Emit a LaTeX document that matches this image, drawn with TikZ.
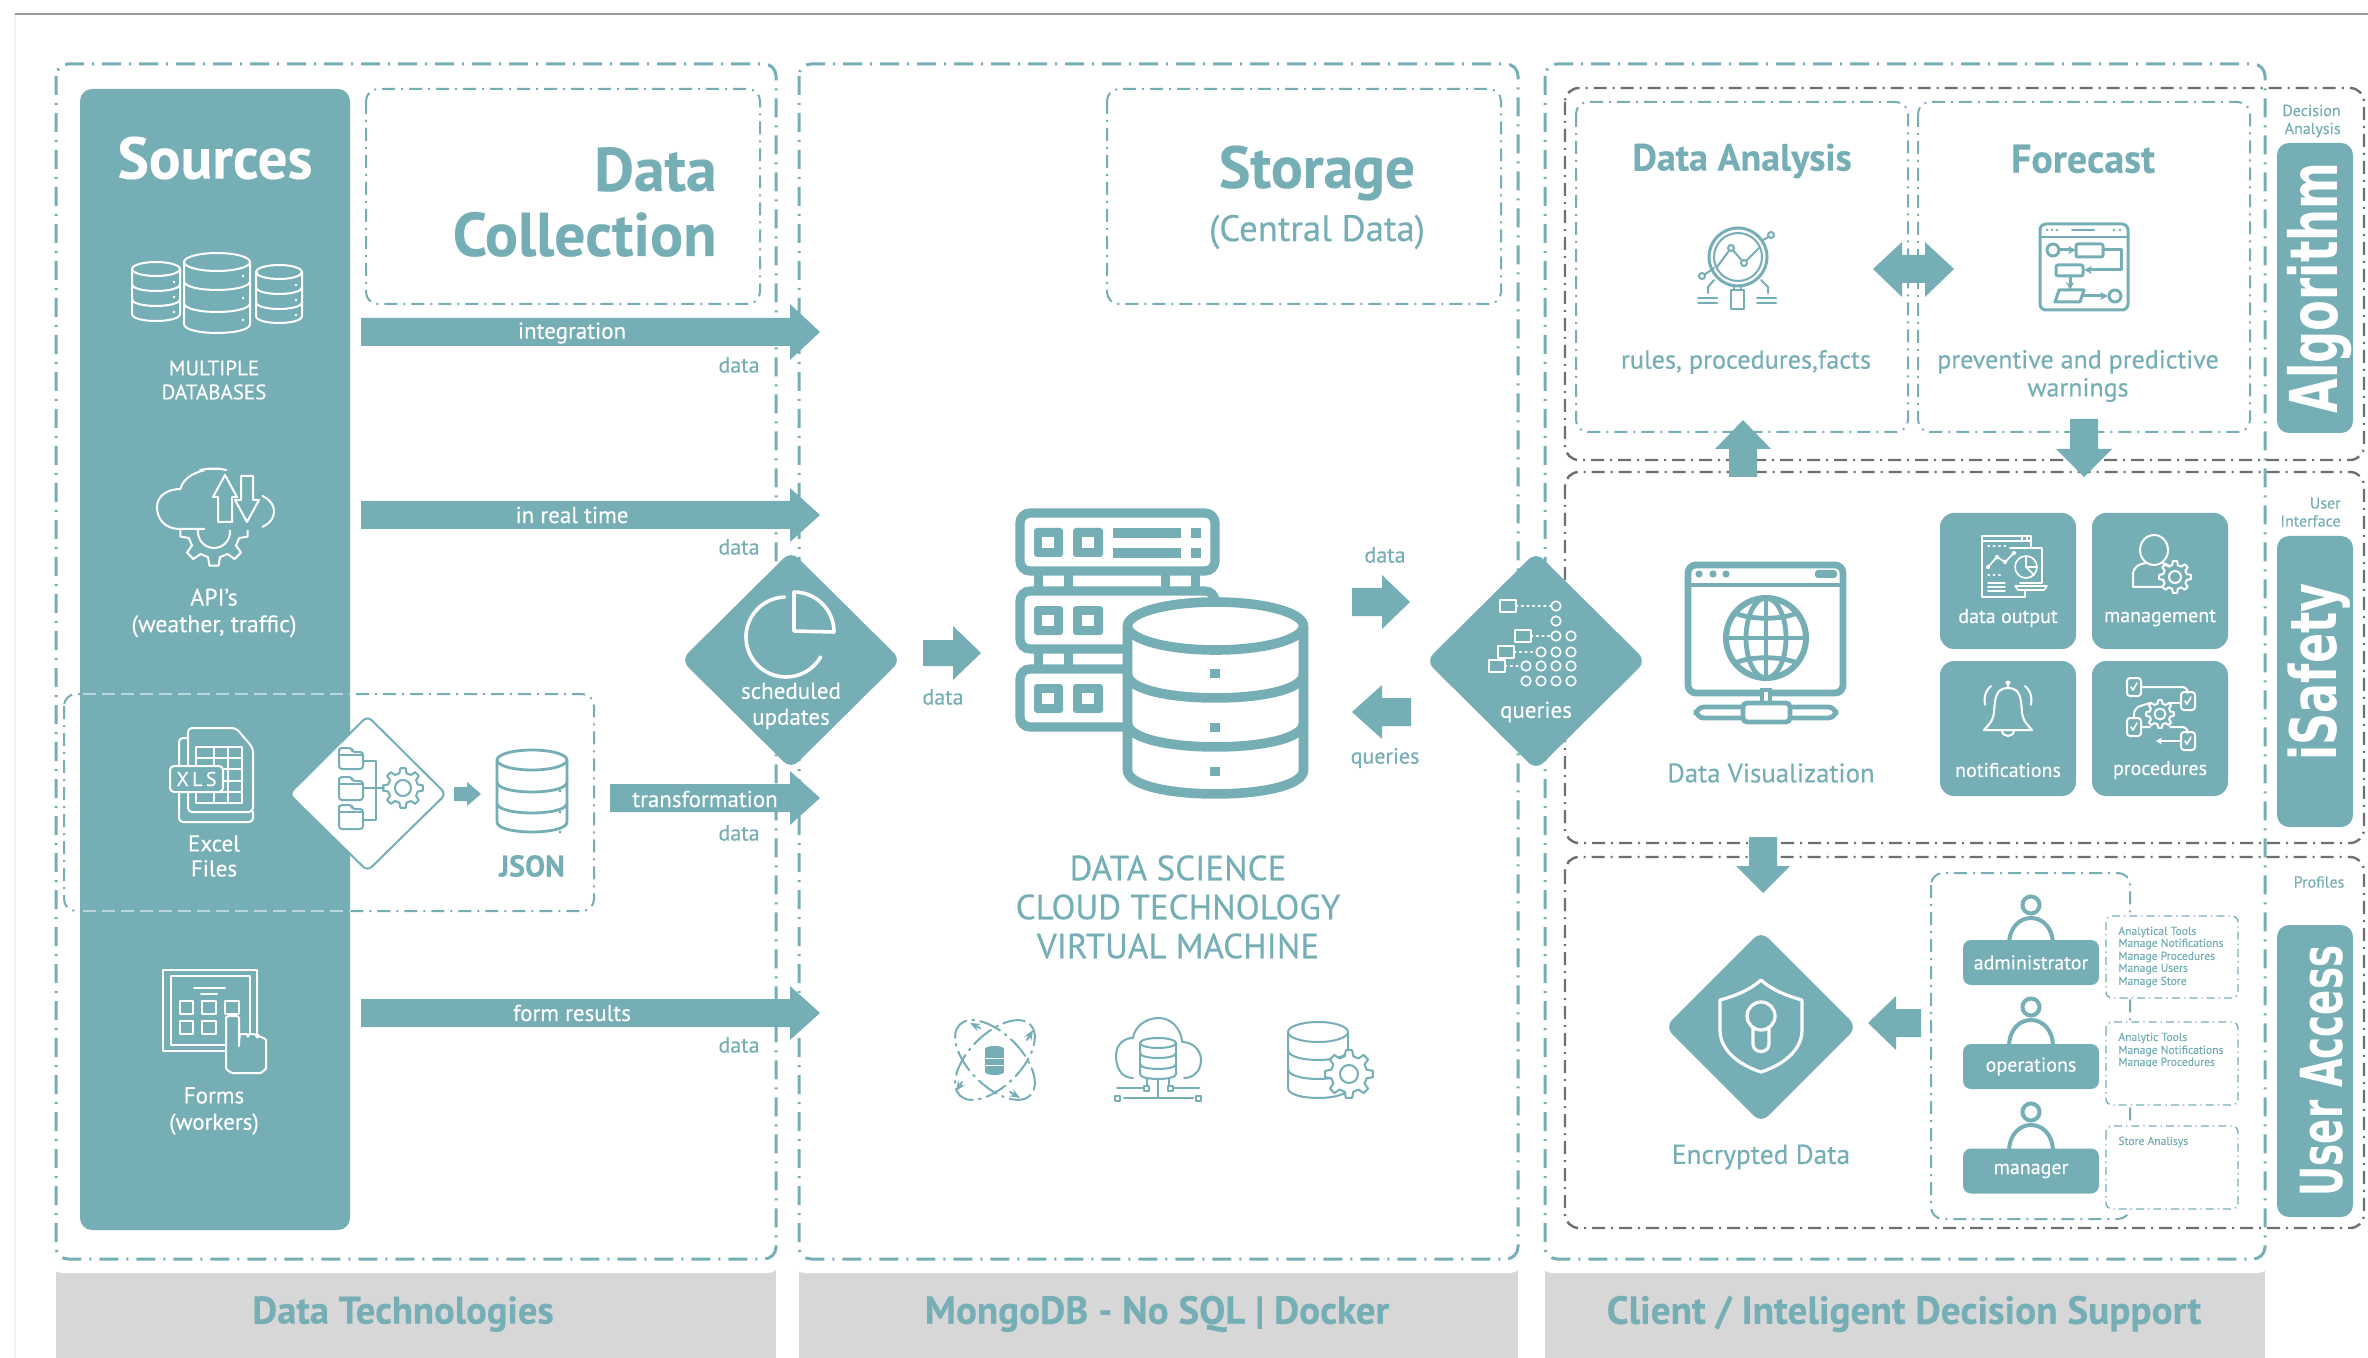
\documentclass[tikz,border=0pt]{standalone}
\usepackage{fontspec}
\usepackage{graphicx}
\usetikzlibrary{arrows.meta}
\setmainfont{PT Sans}[FakeBold=0.25]
\newfontfamily\widef{DejaVu Sans}
\definecolor{tealc}{HTML}{76AEB6}
\definecolor{paleline}{HTML}{BBD6DA}
\definecolor{bandc}{HTML}{D7D7D7}
\definecolor{grayd}{HTML}{6F6F6F}
\newcommand{\fz}[2]{\fontsize{#1}{#2}\selectfont}
\newcommand{\harrow}[6]{\fill[tealc] (#1,{#4-#5}) -- (#2,{#4-#5}) -- (#2,{#4-#6}) -- (#3,#4) -- (#2,{#4+#6}) -- (#2,{#4+#5}) -- (#1,{#4+#5}) -- cycle;}
\newcommand{\varrow}[6]{\fill[tealc] ({#4-#5},#1) -- ({#4-#5},#2) -- ({#4-#6},#2) -- (#4,#3) -- ({#4+#6},#2) -- ({#4+#5},#2) -- ({#4+#5},#1) -- cycle;}
\newcommand{\dmd}[5]{\fill[tealc,rounded corners=5pt] (#1,{#2-#4}) -- ({#1+#3},#2) -- (#1,{#2+#4}) -- ({#1-#3},#2) -- cycle;}
\newcommand{\cyl}[8]{%
 \path[fill=#2] ({#3-#6},#4) -- ({#3-#6},#5) .. controls ({#3-#6},{#5+1.33*#7}) and ({#3+#6},{#5+1.33*#7}) .. ({#3+#6},#5) -- ({#3+#6},#4) .. controls ({#3+#6},{#4-1.33*#7}) and ({#3-#6},{#4-1.33*#7}) .. ({#3-#6},#4) -- cycle;
 \draw[#1] ({#3-#6},#4) -- ({#3-#6},#5) .. controls ({#3-#6},{#5+1.33*#7}) and ({#3+#6},{#5+1.33*#7}) .. ({#3+#6},#5) -- ({#3+#6},#4);
 \draw[#1] (#3,#4) ellipse [x radius=#6,y radius=#7];
 \foreach \yy in {#8} {\draw[#1] ({#3-#6},\yy) .. controls ({#3-#6},{\yy+1.33*#7}) and ({#3+#6},{\yy+1.33*#7}) .. ({#3+#6},\yy);}
}
\newcommand{\gearic}[6][]{%
 \draw[#1,shift={(#2,#3)},line join=round] ({-0.3*360/#6}:{#4*.76})
   \foreach \k in {1,...,#6} { -- ({(\k-1-.3)*360/#6}:{#4*.76}) -- ({(\k-1-.17)*360/#6}:{#4}) -- ({(\k-1+.17)*360/#6}:{#4}) -- ({(\k-1+.3)*360/#6}:{#4*.76}) } -- cycle;
 \draw[#1,shift={(#2,#3)}] (0,0) circle [radius=#5];
}
\newcommand{\rackbox}[1]{%
 \draw[teal9,fill=white,rounded corners=5pt] (1020,#1) rectangle (1215,{#1+58});
 \fill[tealc,rounded corners=1.5pt] (1034,{#1+15}) rectangle (1063,{#1+44});
 \fill[tealc,rounded corners=1.5pt] (1073,{#1+15}) rectangle (1103,{#1+44});
 \fill[white] (1042,{#1+24}) rectangle (1054,{#1+35});
 \fill[white] (1082,{#1+24}) rectangle (1094,{#1+35});
}
\tikzset{
 x=0.5pt,y=-0.5pt,
 dbox/.style={draw=tealc,line width=1.5pt,rounded corners=6pt,dash pattern=on 9.5pt off 4pt on 1pt off 4pt},
 tbox/.style={draw=tealc,line width=1pt,rounded corners=6pt,dash pattern=on 6.5pt off 3pt on 1pt off 3pt},
 fbox/.style={draw=tealc,line width=.7pt,rounded corners=3pt,fill=white,dash pattern=on 4pt off 2pt on .7pt off 2pt},
 gbox/.style={draw=grayd,line width=1.2pt,rounded corners=7pt,dash pattern=on 6.5pt off 3pt on 1pt off 3pt},
 txt/.style={inner sep=0pt,align=center,text=tealc},
 wtxt/.style={inner sep=0pt,align=center,text=white},
 pill/.style={fill=tealc,rounded corners=6pt},
 teal9/.style={draw=tealc,line width=4.6pt},
 wi/.style={draw=white,line width=1pt,line join=round,line cap=round},
 wth/.style={draw=white,line width=1.6pt,line join=round,line cap=round},
 ti/.style={draw=tealc,line width=1pt,line join=round,line cap=round},
 tm/.style={draw=tealc,line width=1.5pt,line join=round,line cap=round},
 tileb/.style={fill=tealc,rounded corners=7pt},
 utile/.style={fill=tealc,rounded corners=4pt,minimum width=68pt,minimum height=22.5pt,inner sep=0pt,text=white,font=\fz{10}{12}},
}
\begin{document}
\begin{tikzpicture}
\useasboundingbox (0,0) rectangle (2368,1358);
\fill[white] (0,0) rectangle (2368,1358);
\draw[draw=black!5,line width=.7pt] (15,14) -- (15,1358);
\draw[draw=black!40,line width=1.2pt] (15,14) -- (2368,14);
% gray bands
\fill[bandc] (56,1260) rectangle (776,1358);
\fill[bandc] (799,1260) rectangle (1518,1358);
\fill[bandc] (1545,1260) rectangle (2265,1358);
\fill[white,rounded corners=6pt] (50,1200) rectangle (780,1273);
\fill[white,rounded corners=6pt] (793,1200) rectangle (1522,1273);
\fill[white,rounded corners=6pt] (1540,1200) rectangle (2270,1273);
\node[txt,font=\bfseries\fz{19.3}{24}] (bt1) at (403,1314) {Data Technologies};
\node[txt,font=\bfseries\fz{19.5}{24}] (bt2) at (1157,1314) {MongoDB - No SQL | Docker};
\node[txt,font=\bfseries\fz{19.6}{24}] (bt3) at (1904,1314) {Client / Inteligent Decision Support};
% columns
\draw[dbox] (56,64) rectangle (776,1259);
\draw[dbox] (799,64) rectangle (1518,1259);
\draw[dbox] (1545,64) rectangle (2265,1259);
% sources panel
\fill[pill] (80,89) rectangle (350,1230);
\node[wtxt,font=\bfseries\fz{29.5}{30}] (src) at (215,158) {Sources};
% databases icon
\cyl{wi}{none}{217}{262}{324}{33}{9}{281,303}
\cyl{wi}{none}{156}{269}{314}{24}{7}{284,299}
\cyl{wi}{none}{279}{272}{316}{23}{7}{287,302}
\foreach \dx/\dy in {243/276,243/298,243/320,174/282,174/297,174/312,296/285,296/300,296/315}{\fill[white] (\dx,\dy) circle [radius=1.3];}
\node[wtxt,font=\fz{10.5}{12}] (mdb) at (214,380) {MULTIPLE\\DATABASES};
% API icon
\begin{scope}[shift={(157,469)},x=0.585pt,y=-0.5pt]
 \draw[wi] (20,60) .. controls (5,60) and (0,48) .. (0,38) .. controls (0,26) and (10,20) .. (20,20) .. controls (22,8) and (36,0) .. (50,0) .. controls (65,0) and (76,10) .. (78,24) .. controls (90,24) and (100,32) .. (100,42) .. controls (100,54) and (90,60) .. (80,60) -- cycle;
\end{scope}
\fill[tealc] (205,470) rectangle (262,530);
\draw[wi] (200,470) .. controls (210,468) and (218,468) .. (226,470);
\draw[wi] (218,522) -- (218,497) -- (213,497) -- (225,475) -- (237,497) -- (232,497) -- (232,522) -- cycle;
\draw[wi] (241,476) -- (253,476) -- (253,500) -- (259,500) -- (247,522) -- (235,500) -- (241,500) -- cycle;
\begin{scope}
 \clip (170,531) rectangle (260,575);
 \gearic[wi]{214}{532}{34}{16}{8}
\end{scope}
\node[wtxt,font=\fz{11.9}{13.3}] (api) at (214,613) {API’s\\(weather, traffic)};
% dashed excel box
\draw[tbox] (64,694) rectangle (594,911);
\begin{scope}
 \clip (80,680) rectangle (350,920);
 \draw[draw=paleline,fill=none,line width=1pt,dash pattern=on 6.5pt off 3pt] (64,694) -- (350,694) (64,911) -- (350,911);
\end{scope}
% excel icon
\draw[wi,rounded corners=2pt] (188,812) -- (188,728) -- (236,728) -- (253,748) -- (253,812) -- cycle;
\draw[wi,rounded corners=2pt] (188,738) -- (179,738) -- (179,822) -- (253,822) -- (253,812);
\foreach \gy in {747,758,769,781,792,803}{\draw[wi,line width=.7pt] (196,\gy) -- (242,\gy);}
\foreach \gx in {196,214,228,242}{\draw[wi,line width=.7pt] (\gx,747) -- (\gx,803);}
\draw[wi,fill=tealc,rounded corners=2pt] (170,766) rectangle (223,792);
\node[wtxt,font=\fz{10}{12}] (xls) at (196.5,779) {X\,L\,S};
\node[wtxt,font=\fz{11.5}{12.5}] (xlst) at (214,856) {Excel\\Files};
% forms icon
\draw[wi] (163,970) rectangle (257,1051);
\draw[wi] (171,976) rectangle (250,1045);
\draw[wi] (194,988) -- (225,988) (201,994) -- (217,994);
\foreach \sx/\sy/\sw in {180/1001/13,202/1001/14,225/1001/14,180/1021/13,202/1021/14}{\draw[wi] (\sx,\sy) rectangle ({\sx+\sw},{\sy+13});}
\draw[wi,fill=tealc,rounded corners=3pt] (226,1062) -- (226,1024) .. controls (226,1015) and (239,1015) .. (239,1024) -- (239,1044) -- (239,1040) .. controls (240,1034) and (247,1034) .. (248,1040) .. controls (249,1034) and (256,1034) .. (257,1041) .. controls (258,1037) and (266,1038) .. (266,1046) -- (266,1062) .. controls (266,1070) and (260,1073) .. (255,1073) -- (238,1073) .. controls (232,1073) and (226,1070) .. (226,1062) -- cycle;
\node[wtxt,font=\fz{11.5}{13.2}] (frm) at (214,1111) {Forms\\(workers)};
% white diamond
\draw[tealc,fill=white,line width=1pt,rounded corners=3pt] (367.5,716) -- (446,794) -- (367.5,871) -- (289,794) -- cycle;
\foreach \fy/\fh in {748/21,777/23,805/24}{\draw[ti,rounded corners=1.5pt] (339,{\fy+4}) -- (339,\fy) -- (352,\fy) -- (352,{\fy+4}) -- (363,{\fy+4}) -- (363,{\fy+\fh}) -- (339,{\fy+\fh}) -- cycle;
 \draw[ti] (339,{\fy+7}) -- (363,{\fy+7});}
\draw[ti] (363,761) -- (376,761) -- (376,820) -- (363,820) (363,788) -- (384,788);
\gearic[ti]{403}{788}{20}{8}{8}
\harrow{454}{467}{481}{794}{7}{12}
% json
\cyl{line width=1.4pt,draw=tealc,line join=round}{white}{532}{760}{822}{35}{10}{782,803}
\foreach \dy in {791,812,832}{\fill[tealc] (560,\dy) circle [radius=1.6];}
\node[txt,font=\bfseries\fz{15}{15}] (js) at (532,866) {JSON};
% data collection
\draw[tbox] (366,89) rectangle (760,304);
\node[txt,align=right,anchor=east,font=\bfseries\fz{30.8}{32.5}] (dc) at (717,202) {Data\\Collection};
% four arrows
\harrow{361}{790}{820}{332}{14}{28}
\node[wtxt,font=\fz{11.5}{13}] (a1) at (572,333) {integration};
\node[txt,anchor=east,font=\fz{11}{13}] (d1) at (760,365) {data};
\harrow{361}{790}{820}{515}{14}{27}
\node[wtxt,font=\fz{11.5}{13}] (a2) at (572,515) {in real time};
\node[txt,anchor=east,font=\fz{11}{13}] (d2) at (760,547) {data};
\harrow{610}{790}{820}{798}{14}{27}
\node[wtxt,font=\fz{11.5}{13}] (a3) at (705,799) {transformation};
\node[txt,anchor=east,font=\fz{11}{13}] (d3) at (760,833) {data};
\harrow{361}{790}{820}{1013}{14}{27}
\node[wtxt,font=\fz{11.5}{13}] (a4) at (572,1013) {form results};
\node[txt,anchor=east,font=\fz{11}{13}] (d4) at (760,1045) {data};
% scheduled diamond
\dmd{791}{660}{110}{109}{}
\draw[wth,line width=1.8pt] (794,631) -- (794,592) arc [start angle=-90,end angle=0,radius=40] -- cycle;
\draw[wth,line width=1.8pt] ({786+40*cos(30)},{637+20}) arc [start angle=30,end angle=268,radius=40];
\node[wtxt,font=\fz{11.5}{13}] (sch) at (791,706) {scheduled\\updates};
\harrow{923}{953}{981}{653}{13}{27}
\node[txt,font=\fz{11}{13}] (d5) at (943,697) {data};
% storage
\draw[tbox] (1107,89) rectangle (1501,304);
\node[txt,font=\bfseries\fz{29.7}{30}] (st) at (1317,173) {Storage};
\node[txt,font=\fz{18.4}{20}] (st2) at (1317,232) {(Central Data)};
% server racks
\foreach \lx in {1034,1064,1161,1191}{\fill[tealc] (\lx,570) rectangle ({\lx+9},672);}
\rackbox{513}
\rackbox{591}
\rackbox{669}
\foreach \ry in {528,548}{\fill[tealc] (1113,\ry) rectangle (1181,{\ry+10}); \fill[tealc] (1191,\ry) rectangle (1201,{\ry+10});}
\cyl{line width=4.8pt,draw=tealc,line join=round}{white}{1215.5}{626}{770}{88}{24}{674,723}
\foreach \dy in {669,723,767}{\fill[tealc] (1210,\dy) rectangle (1220,{\dy+9});}
\node[txt,font=\fz{17.5}{19.5}] (sci) at (1178,907) {DATA SCIENCE\\CLOUD TECHNOLOGY\\VIRTUAL MACHINE};
% storage arrows
\node[txt,font=\fz{11}{13}] (d6) at (1385,555) {data};
\harrow{1352}{1382}{1410}{602}{14}{27}
\harrow{1411}{1382}{1352}{712}{14}{27}
\node[txt,font=\fz{11}{13}] (q1) at (1385,758) {queries};
% atom icon
\begin{scope}
 \draw[ti,dash pattern=on 11pt off 3pt on 1pt off 3pt,rotate around={45:(995,1060)}] (995,1060) ellipse [x radius=50,y radius=26];
 \draw[ti,dash pattern=on 11pt off 3pt on 1pt off 3pt,rotate around={-45:(995,1060)}] (995,1060) ellipse [x radius=50,y radius=26];
 \draw[ti,-{Stealth[length=5pt,width=4pt]}] (980,1028) -- (970,1023);
 \draw[ti,-{Stealth[length=5pt,width=4pt]}] (1027,1040) -- (1033,1030);
 \draw[ti,-{Stealth[length=5pt,width=4pt]}] (962,1082) -- (956,1091);
 \draw[ti,-{Stealth[length=5pt,width=4pt]}] (1010,1092) -- (1020,1098);
 \fill[tealc] (985,1049) rectangle (1004,1072);
 \fill[tealc] (994.5,1049) ellipse [x radius=9.5,y radius=3];
 \fill[tealc] (994.5,1072) ellipse [x radius=9.5,y radius=3];
 \draw[draw=white,line width=.5pt] (985,1058) -- (1004,1058) (985,1065) -- (1004,1065);
\end{scope}
% cloud icon
\begin{scope}[shift={(1116,1018)},x=0.425pt,y=-0.5pt]
 \draw[ti] (20,60) .. controls (5,60) and (0,48) .. (0,38) .. controls (0,26) and (10,20) .. (20,20) .. controls (22,8) and (36,0) .. (50,0) .. controls (65,0) and (76,10) .. (78,24) .. controls (90,24) and (100,32) .. (100,42) .. controls (100,54) and (90,60) .. (80,60);
\end{scope}
\cyl{ti}{white}{1158}{1043}{1074}{18}{5}{1053,1064}
\draw[ti] (1147,1079) -- (1147,1088) -- (1117,1088) (1169,1079) -- (1169,1088) -- (1199,1088);
\draw[ti] (1158,1079) -- (1158,1098) -- (1124,1098) (1158,1098) -- (1193,1098);
\foreach \bx/\by in {1117/1098,1198/1098,1146/1088,1170/1088}{\draw[ti,fill=white] ({\bx-2.5},{\by-2.5}) rectangle ({\bx+2.5},{\by+2.5});}
% db gear icon
\cyl{ti}{white}{1318}{1032}{1088}{30}{10}{1050,1069}
\gearic[ti,fill=white]{1349}{1074}{24}{9}{8}
% right column boxes
\draw[gbox] (1565,88) rectangle (2364,460);
\draw[gbox] (1565,472) rectangle (2364,843);
\draw[gbox] (1565,857) rectangle (2364,1228);
\draw[tbox] (1576,102) rectangle (1908,432);
\draw[tbox] (1918,102) rectangle (2250,432);
% queries diamond
\dmd{1536}{661}{110}{109}{}
\foreach \qx/\qy in {1556/606,1556/621,1556/636,1571/636,1541/652,1556/652,1571/652,1526/666,1541/666,1556/666,1571/666,1526/681,1541/681,1556/681,1571/681}{\draw[wi,line width=.8pt] (\qx,\qy) circle [radius=4.8];}
\foreach \qx/\qy/\qe in {1500/606/1551,1515/636/1551,1498/652/1535,1489/666/1521}{\draw[wi,line width=.8pt,fill=tealc] (\qx,{\qy-6}) rectangle ({\qx+16},{\qy+6}); \draw[wi,line width=.8pt,dotted] ({\qx+16},\qy) -- (\qe,\qy);}
\node[wtxt,font=\fz{11.5}{13}] (qu) at (1536,712) {queries};
% double arrow
\fill[tealc] (1873,269) -- (1902,242) -- (1902,255) -- (1925,255) -- (1925,242) -- (1954,269) -- (1925,297) -- (1925,283) -- (1902,283) -- (1902,297) -- cycle;
\node[txt,font=\bfseries\fz{19}{20}] (da) at (1742,161) {Data Analysis};
\node[txt,font=\bfseries\fz{20}{20}] (fc) at (2083,159) {Forecast};
\node[txt,font=\fz{13.1}{14}] (ru) at (1746,362) {rules, procedures,facts};
\node[txt,font=\fz{13}{14}] (pr) at (2078,376) {preventive and predictive\\warnings};
% analysis icon
\draw[tm] (1738,257) circle [radius=29];
\draw[ti] (1738,257) circle [radius=24];
\draw[ti] (1717,267) -- (1731,248) -- (1744,263) -- (1759,248);
\draw[ti,fill=white] (1731,248) circle [radius=3];
\draw[ti,fill=white] (1744,263) circle [radius=3];
\draw[tm,line width=1.2pt] (1731,290) rectangle (1744,309);
\draw[ti] (1734,285) -- (1734,290) (1741,285) -- (1741,290);
\draw[ti] (1763,240) -- (1770,236) (1714,268) -- (1704,275);
\draw[ti,fill=white] (1771,235) circle [radius=3];
\draw[ti,fill=white] (1702,276) circle [radius=3];
\draw[ti] (1708,293) -- (1708,287) -- (1714,280) (1768,293) -- (1768,287) -- (1761,280);
\draw[ti] (1698,298) -- (1717,298) (1698,303) -- (1717,303) (1757,298) -- (1776,298) (1757,303) -- (1776,303);
% forecast icon
\draw[tm,rounded corners=3pt] (2040,224) rectangle (2128,310);
\draw[ti] (2040,237) -- (2128,237) (2072,230) -- (2094,230);
\foreach \ddx in {2047,2052,2057,2114,2120}{\fill[tealc] (\ddx,230) circle [radius=1.3];}
\draw[tm] (2053,250) circle [radius=6];
\draw[tm,-{Stealth[length=4pt,width=4pt]}] (2059,250) -- (2076,250);
\draw[tm,rounded corners=1pt] (2076,244) rectangle (2103,257);
\draw[tm,-{Stealth[length=4pt,width=4pt]}] (2103,250) -- (2121,250) -- (2121,270) -- (2084,270);
\draw[tm,rounded corners=1pt] (2056,265) rectangle (2083,276);
\draw[tm,-{Stealth[length=4pt,width=4pt]}] (2070,276) -- (2070,290);
\draw[tm] (2059,290) -- (2084,290) -- (2080,302) -- (2055,302) -- cycle;
\draw[tm,-{Stealth[length=4pt,width=4pt]}] (2082,296) -- (2108,296);
\draw[tm] (2115,296) circle [radius=6];
% analysis arrows
\varrow{477}{449}{420}{1743}{14}{28}
\varrow{419}{449}{477}{2084}{14}{28}
% algorithm pill
\node[txt,align=right,anchor=east,font=\fz{8}{9}] (dan) at (2341,121) {Decision\\Analysis};
\fill[pill] (2277,143) rectangle (2353,433);
\node[rotate=90,anchor=base,inner sep=0pt,text=white,font=\widef\bfseries\fz{33}{36}] (alg) at (2337,288) {\scalebox{.68}[1]{Algorithm}};
% visualization
\draw[line width=3.4pt,draw=tealc,rounded corners=4pt] (1688,565) rectangle (1843,693);
\draw[line width=2.4pt,draw=tealc] (1688,585) -- (1843,585);
\foreach \vx in {1699,1713,1726}{\fill[tealc] (\vx,574) circle [radius=3.6];}
\fill[tealc,rounded corners=1.5pt] (1815,570) rectangle (1837,578);
\draw[draw=tealc,line width=2.4pt,fill=white] (1762,690) rectangle (1770,708);
\draw[draw=tealc,line width=3pt,fill=white] (1766,638) circle [radius=40];
\draw[draw=tealc,line width=2.4pt] (1766,638) ellipse [x radius=20,y radius=40];
\draw[draw=tealc,line width=2.4pt] (1766,598) -- (1766,678) (1726,638) -- (1806,638);
\draw[draw=tealc,line width=2.4pt] (1735,613) .. controls (1750,620) and (1782,620) .. (1797,613);
\draw[draw=tealc,line width=2.4pt] (1735,663) .. controls (1750,656) and (1782,656) .. (1797,663);
\draw[draw=tealc,line width=2.4pt,fill=white,rounded corners=4pt] (1696,707) rectangle (1836,718);
\draw[draw=tealc,line width=2.4pt,fill=white,rounded corners=2pt] (1743,703) rectangle (1790,722);
\node[txt,font=\fz{13.4}{14}] (dv) at (1771,773) {Data Visualization};
% tiles
\fill[tileb] (1940,513) rectangle (2076,649);
\fill[tileb] (2092,513) rectangle (2228,649);
\fill[tileb] (1940,661) rectangle (2076,796);
\fill[tileb] (2092,661) rectangle (2228,796);
\node[wtxt,font=\fz{10}{13}] (t1) at (2008,618) {data output};
\node[wtxt,font=\fz{10}{13}] (t2) at (2160,618) {management};
\node[wtxt,font=\fz{10}{13}] (t3) at (2008,770) {notifications};
\node[wtxt,font=\fz{10}{13}] (t4) at (2160,770) {procedures};
% data output icon
\draw[wi,line width=.8pt] (2031,548) -- (2031,536) -- (1982,536) -- (1982,597) -- (2015,597);
\draw[wi,line width=.8pt] (1982,541) -- (2031,541) (2022,536) -- (2022,541) (2027,536) -- (2027,541);
\draw[wi,line width=.8pt,fill=tealc] (2010,548) -- (2042,548) -- (2042,583) -- (2020,583);
\draw[wi,line width=.8pt] (1988,567) -- (1997,557) -- (2005,562) -- (2014,553);
\foreach \cx/\cy in {1988/567,1997/557,2005/562,2014/553}{\draw[wi,line width=.7pt,fill=tealc] (\cx,\cy) circle [radius=1.6];}
\draw[wi,line width=.8pt] (2026,567) circle [radius=11];
\draw[wi,line width=.8pt] (2026,567) -- (2026,556) (2026,567) -- (2037,567) (2026,567) -- (2034,575);
\draw[wi,line width=.7pt] (1988,583) -- (2005,583) (1988,587) -- (2005,587) (1988,591) -- (2005,591);
\draw[wi,line width=.8pt] (2015,586) -- (2047,586) -- (2044,590) -- (2018,590) -- cycle (2025,590) -- (2025,597) -- (2015,597);
\draw[wi,line width=.7pt,dotted] (1988,546) -- (2008,546) (1988,575) -- (2004,575);
% management icon
\draw[wi] (2154,550) ellipse [x radius=14,y radius=15];
\draw[wi] (2133,587) -- (2133,575) .. controls (2133,566) and (2140,564) .. (2146,563) (2162,563) .. controls (2166,564) and (2168,565) .. (2170,566) (2133,587) -- (2162,587);
\gearic[wi,fill=tealc]{2175}{577}{16}{6}{8}
% bell icon
\draw[wi] (2008,688) .. controls (1995,688) and (1995,700) .. (1994,712) .. controls (1993,722) and (1988,725) .. (1984,730) -- (2032,730) .. controls (2028,725) and (2023,722) .. (2022,712) .. controls (2021,700) and (2021,688) .. (2008,688) -- cycle;
\draw[wi] (2008,688) -- (2008,683);
\fill[white] (2008,683) circle [radius=2.5];
\draw[wi] (2002,730) .. controls (2002,738) and (2014,738) .. (2014,730);
\draw[wi] (1991,686) .. controls (1984,692) and (1984,700) .. (1985,705);
\draw[wi] (2025,686) .. controls (2032,692) and (2032,700) .. (2031,705);
% procedures icon
\foreach \px/\py in {2134/687,2188/701,2134/727,2188/741}{\draw[wi,rounded corners=1.5pt] ({\px-7},{\py-9}) rectangle ({\px+7},{\py+9}); \draw[wi,line width=.8pt] ({\px-3},\py) -- ({\px-1},{\py+3}) -- ({\px+3},{\py-4});}
\draw[wi,rounded corners=3pt] (2141,687) -- (2188,687) -- (2188,692);
\draw[wi,rounded corners=3pt] (2134,718) -- (2134,708) -- (2150,703);
\draw[wi] (2170,703) -- (2181,703);
\draw[wi,rounded corners=3pt] (2141,727) -- (2150,727) (2170,727) -- (2188,727) -- (2188,732);
\draw[wi,-{Stealth[length=3pt,width=3.5pt]}] (2181,741) -- (2156,741);
\gearic[wi,fill=tealc]{2160}{714}{14}{5.5}{8}
% encrypted
\varrow{837}{866}{893}{1763}{14}{27}
\dmd{1761}{1027}{96}{96}{}
\draw[wth] (1761,980) .. controls (1750,990) and (1735,996) .. (1720,1000) -- (1720,1030) .. controls (1720,1052) and (1742,1066) .. (1761,1072) .. controls (1780,1066) and (1802,1052) .. (1802,1030) -- (1802,1000) .. controls (1787,996) and (1772,990) .. (1761,980) -- cycle;
\draw[wth] (1753,1028) -- (1753,1044) .. controls (1753,1054) and (1769,1054) .. (1769,1044) -- (1769,1028);
\draw[wth] (1761,1016) circle [radius=14];
\node[txt,font=\fz{13.7}{14}] (ed) at (1761,1157) {Encrypted Data};
\harrow{1921}{1896}{1868}{1023}{14}{27}
% profile box
\draw[tbox] (1931,873) rectangle (2130,1219);
\foreach \hy in {905,1007,1112}{
 \draw[draw=tealc,line width=2pt] (2031,\hy) circle [radius=8.5];
 \draw[draw=tealc,line width=2pt] (2009,{\hy+40}) .. controls (2009,{\hy+4}) and (2053,{\hy+4}) .. (2053,{\hy+40});
}
\node[utile] (u1) at (2031,962.5) {administrator};
\node[utile] (u2) at (2031,1066.5) {operations};
\node[utile] (u3) at (2031,1171) {\raisebox{-.5pt}{manager}};
\draw[fbox] (2106,916) rectangle (2238,998);
\draw[fbox] (2106,1022) rectangle (2238,1105);
\draw[fbox] (2106,1126) rectangle (2238,1209);
\foreach \ty/\tt [count=\ti] in {932/Analytical Tools,944/Manage Notifications,957/Manage Procedures,969/Manage Users,982/Manage Store}{\node[txt,anchor=west,font=\fz{5.8}{7}] (pa\ti) at (2118,\ty) {\tt};}
\node[txt,anchor=west,font=\fz{5.8}{7}] (pb1) at (2118,1038) {Analytic Tools};
\node[txt,anchor=west,font=\fz{5.8}{7}] (pb2) at (2118,1051) {Manage Notifications};
\begin{scope}
 \clip (2110,1050) rectangle (2230,1066);
 \node[txt,anchor=west,font=\fz{5.8}{7}] (pb3) at (2118,1063) {Manage Procedures};
\end{scope}
\node[txt,anchor=west,font=\fz{5.8}{7}] (pc1) at (2118,1142) {Store Analisys};
% pills
\node[txt,align=right,anchor=east,font=\fz{8}{9}] (ui) at (2341,512) {User\\Interface};
\fill[pill] (2277,536) rectangle (2353,827);
\node[rotate=90,anchor=base,inner sep=0pt,text=white,font=\widef\bfseries\fz{32}{36}] (isf) at (2336,672) {\scalebox{.695}[1]{iSafety}};
\node[txt,font=\fz{8}{9}] (pf) at (2319,882) {Profiles};
\fill[pill] (2277,925) rectangle (2353,1217);
\node[rotate=90,anchor=base,inner sep=0pt,text=white,font=\widef\bfseries\fz{29}{36}] (ua) at (2342,1071) {\scalebox{.64}[1]{User Access}};
\end{tikzpicture}
\end{document}
